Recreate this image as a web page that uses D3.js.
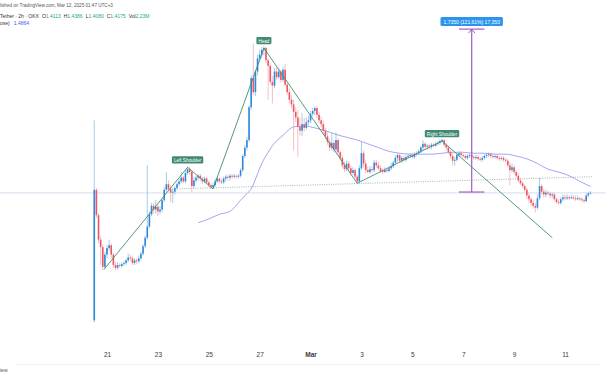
<!DOCTYPE html>
<html>
<head>
<meta charset="utf-8">
<title>KAITO 2h</title>
<script src="https://cdn.jsdelivr.net/npm/d3@7"></script>
<style>
  body { margin: 0; background: #fff; }
  svg { display: block; font-family: "Liberation Sans", Arial, sans-serif; }
</style>
</head>
<body>
<script>
// 2h bars, first one opens Feb 20 12:00
var firstBar = "2025-02-20T12:00:00Z";

var opens = [
  0.06,1.45,1.18,0.92,0.84,0.63,0.76,0.83,0.86,0.76,
  0.65,0.62,0.65,0.64,0.66,0.67,0.70,0.73,0.72,0.67,
  0.70,0.69,0.72,0.77,0.85,0.94,1.06,1.19,1.28,1.24,
  1.27,1.22,1.24,1.34,1.45,1.51,1.46,1.42,1.43,1.47,
  1.51,1.54,1.58,1.54,1.63,1.67,1.64,1.49,1.55,1.58,
  1.60,1.57,1.54,1.57,1.53,1.50,1.48,1.50,1.54,1.57,
  1.54,1.53,1.57,1.59,1.58,1.60,1.59,1.60,1.59,1.60,
  1.66,1.81,1.90,1.98,2.33,2.64,2.49,2.71,2.85,2.89,
  2.94,2.96,2.83,2.77,2.60,2.56,2.71,2.65,2.71,2.62,
  2.73,2.57,2.49,2.41,2.36,2.28,2.22,2.12,2.08,2.15,
  2.11,2.17,2.19,2.26,2.29,2.32,2.25,2.19,2.15,2.08,
  2.02,1.96,1.90,1.95,1.88,1.98,1.85,1.79,1.71,1.67,
  1.73,1.68,1.63,1.66,1.59,1.54,1.68,1.84,1.73,1.66,
  1.64,1.67,1.66,1.74,1.71,1.68,1.65,1.64,1.66,1.65,
  1.68,1.70,1.74,1.79,1.82,1.76,1.79,1.77,1.80,1.81,
  1.82,1.80,1.83,1.84,1.86,1.90,1.94,1.91,1.92,1.91,
  1.93,1.92,1.94,1.95,1.97,1.98,1.93,1.90,1.85,1.81,
  1.76,1.77,1.82,1.84,1.82,1.81,1.79,1.81,1.82,1.80,
  1.79,1.80,1.78,1.77,1.79,1.81,1.82,1.83,1.81,1.80,
  1.81,1.79,1.78,1.79,1.77,1.76,1.71,1.66,1.69,1.64,
  1.60,1.55,1.52,1.49,1.45,1.39,1.35,1.31,1.28,1.26,
  1.36,1.49,1.43,1.40,1.42,1.41,1.39,1.40,1.35,1.32,
  1.31,1.35,1.37,1.36,1.37,1.36,1.37,1.36,1.35,1.36,
  1.35,1.34,1.33,1.39,1.4113
];
var highs = [
  2.19,1.47,1.20,0.96,0.87,0.79,0.86,0.92,0.88,0.78,
  0.68,0.68,0.67,0.68,0.69,0.72,0.77,0.76,0.75,0.72,
  0.72,0.75,0.79,0.87,0.96,1.71,1.22,1.31,1.31,1.34,
  1.30,1.28,1.36,1.48,1.64,1.55,1.50,1.47,1.49,1.53,
  1.57,1.64,1.60,1.66,1.70,1.69,1.66,1.59,1.60,1.62,
  1.62,1.59,1.59,1.59,1.55,1.52,1.52,1.57,1.59,1.58,
  1.57,1.59,1.61,1.61,1.62,1.62,1.62,1.61,1.62,1.68,
  1.83,1.93,2.01,2.35,2.67,3.01,2.73,2.89,2.94,2.97,
  2.98,2.97,2.85,2.80,2.66,2.75,2.76,2.75,2.73,2.76,
  2.79,2.59,2.53,2.46,2.41,2.33,2.30,2.22,2.27,2.22,
  2.22,2.24,2.29,2.32,2.34,2.34,2.28,2.23,2.19,2.11,
  2.06,1.99,2.06,1.98,2.06,2.00,1.87,1.82,1.75,1.76,
  1.76,1.71,1.69,1.68,1.61,1.71,1.96,1.87,1.77,1.70,
  1.70,1.70,1.77,1.77,1.75,1.71,1.68,1.69,1.68,1.70,
  1.74,1.76,1.82,1.84,1.84,1.81,1.81,1.82,1.83,1.84,
  1.84,1.85,1.86,1.88,1.92,1.98,1.96,1.94,1.94,1.95,
  1.95,1.96,1.97,1.99,2.00,1.99,1.95,1.92,1.87,1.84,
  1.80,1.85,1.86,1.86,1.84,1.83,1.83,1.84,1.84,1.82,
  1.82,1.82,1.80,1.81,1.83,1.84,1.85,1.85,1.83,1.83,
  1.83,1.81,1.81,1.81,1.79,1.78,1.75,1.73,1.71,1.66,
  1.63,1.58,1.54,1.51,1.47,1.42,1.37,1.34,1.31,1.40,
  1.58,1.51,1.46,1.45,1.44,1.43,1.42,1.42,1.37,1.35,
  1.37,1.40,1.40,1.40,1.39,1.40,1.39,1.39,1.39,1.37,
  1.37,1.36,1.41,1.43,1.4386
];
var lows = [
  0.04,1.15,0.88,0.65,0.60,0.61,0.72,0.80,0.72,0.62,
  0.59,0.60,0.62,0.62,0.64,0.65,0.68,0.69,0.65,0.65,
  0.66,0.67,0.70,0.75,0.83,0.92,1.04,1.17,1.19,1.20,
  1.17,1.19,1.21,1.32,1.43,1.44,1.32,1.31,1.40,1.45,
  1.49,1.52,1.52,1.52,1.61,1.61,1.42,1.47,1.53,1.55,
  1.54,1.51,1.52,1.51,1.48,1.46,1.46,1.48,1.52,1.52,
  1.51,1.51,1.54,1.55,1.55,1.57,1.57,1.57,1.57,1.58,
  1.64,1.79,1.87,1.96,2.30,2.46,2.45,2.67,2.81,2.85,
  2.88,2.80,2.41,2.57,2.37,2.53,2.62,2.63,2.59,2.60,
  2.55,2.46,2.37,2.32,1.87,2.17,1.80,2.03,2.02,2.07,
  2.09,2.14,2.16,2.23,2.25,2.22,2.16,2.12,2.04,1.99,
  1.93,1.86,1.87,1.85,1.85,1.82,1.76,1.68,1.64,1.65,
  1.65,1.60,1.61,1.57,1.52,1.52,1.66,1.69,1.63,1.62,
  1.62,1.63,1.64,1.68,1.66,1.63,1.62,1.63,1.63,1.64,
  1.66,1.68,1.71,1.75,1.74,1.74,1.75,1.75,1.78,1.79,
  1.78,1.78,1.81,1.82,1.84,1.87,1.88,1.88,1.88,1.88,
  1.90,1.91,1.92,1.93,1.95,1.91,1.87,1.83,1.78,1.71,
  1.71,1.75,1.80,1.80,1.79,1.77,1.77,1.79,1.78,1.77,
  1.77,1.76,1.75,1.75,1.77,1.79,1.80,1.79,1.78,1.78,
  1.77,1.76,1.76,1.75,1.74,1.69,1.50,1.64,1.62,1.58,
  1.53,1.50,1.47,1.43,1.35,1.31,1.28,1.25,1.21,1.24,
  1.34,1.40,1.37,1.37,1.39,1.36,1.36,1.33,1.30,1.29,
  1.29,1.33,1.34,1.34,1.34,1.35,1.34,1.33,1.34,1.33,
  1.32,1.31,1.32,1.37,1.4080
];
var closes = [
  1.45,1.18,0.92,0.84,0.63,0.76,0.83,0.86,0.76,0.65,
  0.62,0.65,0.64,0.66,0.67,0.70,0.73,0.72,0.67,0.70,
  0.69,0.72,0.77,0.85,0.94,1.06,1.19,1.28,1.24,1.27,
  1.22,1.24,1.34,1.45,1.51,1.46,1.42,1.43,1.47,1.51,
  1.54,1.58,1.54,1.63,1.67,1.64,1.49,1.55,1.58,1.60,
  1.57,1.54,1.57,1.53,1.50,1.48,1.50,1.54,1.57,1.54,
  1.53,1.57,1.59,1.58,1.60,1.59,1.60,1.59,1.60,1.66,
  1.81,1.90,1.98,2.33,2.64,2.49,2.71,2.85,2.89,2.94,
  2.96,2.83,2.77,2.60,2.56,2.71,2.65,2.71,2.62,2.73,
  2.57,2.49,2.41,2.36,2.28,2.22,2.12,2.08,2.15,2.11,
  2.17,2.19,2.26,2.29,2.32,2.25,2.19,2.15,2.08,2.02,
  1.96,1.90,1.95,1.88,1.98,1.85,1.79,1.71,1.67,1.73,
  1.68,1.63,1.66,1.59,1.54,1.68,1.84,1.73,1.66,1.64,
  1.67,1.66,1.74,1.71,1.68,1.65,1.64,1.66,1.65,1.68,
  1.70,1.74,1.79,1.82,1.76,1.79,1.77,1.80,1.81,1.82,
  1.80,1.83,1.84,1.86,1.90,1.94,1.91,1.92,1.91,1.93,
  1.92,1.94,1.95,1.97,1.98,1.93,1.90,1.85,1.81,1.76,
  1.77,1.82,1.84,1.82,1.81,1.79,1.81,1.82,1.80,1.79,
  1.80,1.78,1.77,1.79,1.81,1.82,1.83,1.81,1.80,1.81,
  1.79,1.78,1.79,1.77,1.76,1.71,1.66,1.69,1.64,1.60,
  1.55,1.52,1.49,1.45,1.39,1.35,1.31,1.28,1.26,1.36,
  1.49,1.43,1.40,1.42,1.41,1.39,1.40,1.35,1.32,1.31,
  1.35,1.37,1.36,1.37,1.36,1.37,1.36,1.35,1.36,1.35,
  1.34,1.33,1.39,1.41,1.4175
];

// moving average (bar index -> value)
var maBars   = [49,54,59,64,69,72,74,77,79,82,84,89,94,99,104,109,114,119,124,129,134,139,144,149,154,159,164,169,174,179,184,189,194,199,204,209,214,219,224,229,234];
var maValues = [1.10,1.14,1.19,1.22,1.34,1.41,1.46,1.62,1.73,1.85,1.92,2.03,2.12,2.13,2.11,2.08,2.04,2.01,1.98,1.94,1.90,1.86,1.84,1.83,1.83,1.83,1.84,1.85,1.85,1.84,1.84,1.83,1.83,1.81,1.78,1.73,1.67,1.64,1.60,1.54,1.4864];

var tickDates  = ["2025-02-21","2025-02-23","2025-02-25","2025-02-27","2025-03-01","2025-03-03","2025-03-05","2025-03-07","2025-03-09","2025-03-11"];
var tickLabels = ["21","23","25","27","Mar","3","5","7","9","11"];

var lastPrice = 1.4175;

// head & shoulders drawing
var patternTimes  = ["2025-02-20T21:00Z","2025-02-24T04:00Z","2025-02-25T04:00Z","2025-02-27T04:00Z","2025-03-02T20:00Z","2025-03-06T04:00Z","2025-03-10T12:00Z"];
var patternPrices = [0.60, 1.69, 1.46, 2.96, 1.52, 1.97, 0.94];
var patternLabels = [null, "Left Shoulder", null, "Head", null, "Right Shoulder", null];

var necklineTimes  = ["2025-02-23T18:00Z","2025-03-12T01:30Z"];
var necklinePrices = [1.46, 1.59];

// price range tool
var measureTime  = "2025-03-07T08:00Z";
var measureSpan  = ["2025-03-06T20:00Z","2025-03-07T20:00Z"];
var measureFrom  = 1.4267;
var measureTo    = 3.1617;
var measureText  = "1.7350 (121.61%) 17,350";

var W = 606, H = 374;

var t0 = new Date(firstBar);
var bars = closes.map(function(c, i) {
  return { t: d3.utcHour.offset(t0, 2 * i), o: opens[i], h: highs[i], l: lows[i], c: c };
});

var x = d3.scaleUtc()
  .domain([new Date("2025-02-21T00:00Z"), new Date("2025-03-11T00:00Z")])
  .range([107, 565]);
var y = d3.scaleLinear()
  .domain([0, 3])
  .range([326, 44.3]);

var svg = d3.select('body').append('svg')
  .attr('width', W)
  .attr('height', H);

svg.append('rect').attr('width', W).attr('height', H).attr('fill', '#fff');

// last price line
svg.append('line')
  .attr('x1', 0).attr('x2', W)
  .attr('y1', y(lastPrice)).attr('y2', y(lastPrice))
  .attr('stroke', '#c9d7ea').attr('stroke-width', 0.8);

// neckline
svg.append('path')
  .attr('d', d3.line()
    .x(function(d, i) { return x(new Date(d)); })
    .y(function(d, i) { return y(necklinePrices[i]); })(necklineTimes))
  .attr('fill', 'none')
  .attr('stroke', '#86a89c')
  .attr('stroke-width', 0.8)
  .attr('stroke-dasharray', '1,1.3');

// moving average
svg.append('path')
  .attr('d', d3.line()
    .curve(d3.curveMonotoneX)
    .x(function(d) { return x(bars[d].t); })
    .y(function(d, i) { return y(maValues[i]); })(maBars))
  .attr('fill', 'none')
  .attr('stroke', '#8b8eec')
  .attr('stroke-width', 0.8);

// candles
var upBody = '#2f88dc', upWick = '#7fb4dc', dnBody = '#ee5563', dnWick = '#f3a2a9';
var cg = svg.append('g').attr('class', 'candles');
cg.selectAll('line')
  .data(bars)
  .enter()
  .append('line')
    .attr('x1', function(d) { return x(d.t); })
    .attr('x2', function(d) { return x(d.t); })
    .attr('y1', function(d) { return y(d.h); })
    .attr('y2', function(d) { return y(d.l); })
    .attr('stroke', function(d) { return d.c >= d.o ? upWick : dnWick; })
    .attr('stroke-width', 0.7);
cg.selectAll('rect')
  .data(bars)
  .enter()
  .append('rect')
    .attr('x', function(d) { return x(d.t) - 0.8; })
    .attr('width', 1.6)
    .attr('y', function(d) { return y(Math.max(d.o, d.c)); })
    .attr('height', function(d) { return Math.max(0.8, Math.abs(y(d.o) - y(d.c))); })
    .attr('fill', function(d) { return d.c >= d.o ? upBody : dnBody; });

// head & shoulders polyline
svg.append('path')
  .attr('d', d3.line()
    .x(function(d) { return x(new Date(d)); })
    .y(function(d, i) { return y(patternPrices[i]); })(patternTimes))
  .attr('fill', 'none')
  .attr('stroke', '#3f8d6f')
  .attr('stroke-width', 0.9);

var labels = svg.append('g');
patternTimes.forEach(function(t, i) {
  if (!patternLabels[i]) return;
  var px = x(new Date(t)), py = y(patternPrices[i]);
  var g = labels.append('g');
  var txt = g.append('text')
    .attr('x', px).attr('y', py - 5.3)
    .attr('text-anchor', 'middle')
    .attr('font-size', 4.6)
    .attr('fill', '#fff')
    .text(patternLabels[i]);
  var w = txt.node().getComputedTextLength() + 4;
  g.insert('rect', 'text')
    .attr('x', px - w / 2).attr('y', py - 11)
    .attr('width', w).attr('height', 7.2)
    .attr('rx', 1.3)
    .attr('fill', '#3e8a73');
});

// price range tool
var mx = x(new Date(measureTime)), mTop = y(measureTo), mBot = y(measureFrom);
var purple = '#a25bc8';
svg.append('line')
  .attr('x1', mx).attr('x2', mx).attr('y1', mTop).attr('y2', mBot)
  .attr('stroke', purple).attr('stroke-width', 1.2);
[measureTo, measureFrom].forEach(function(p) {
  svg.append('line')
    .attr('x1', x(new Date(measureSpan[0]))).attr('x2', x(new Date(measureSpan[1])))
    .attr('y1', y(p)).attr('y2', y(p))
    .attr('stroke', purple).attr('stroke-width', 1.2);
});
svg.append('path')
  .attr('d', 'M' + (mx - 3.2) + ',' + (mTop + 4) + 'L' + mx + ',' + mTop + 'L' + (mx + 3.2) + ',' + (mTop + 4))
  .attr('fill', 'none').attr('stroke', purple).attr('stroke-width', 1);
var mg = svg.append('g');
var mt = mg.append('text')
  .attr('x', mx).attr('y', mTop - 5.4)
  .attr('text-anchor', 'middle')
  .attr('font-size', 5)
  .attr('fill', '#fff')
  .text(measureText);
var mw = mt.node().getComputedTextLength() + 6;
mg.insert('rect', 'text')
  .attr('x', mx - mw / 2).attr('y', mTop - 12.2)
  .attr('width', mw).attr('height', 9)
  .attr('rx', 1.5)
  .attr('fill', '#2b95ee');

// time axis
var xAxis = d3.axisBottom(x)
  .tickValues(tickDates.map(function(d) { return new Date(d + "T00:00Z"); }))
  .tickFormat(function(d, i) { return tickLabels[i]; })
  .tickSize(0)
  .tickPadding(0);
var ax = svg.append('g')
  .attr('transform', 'translate(0,352)')
  .call(xAxis);
ax.select('.domain').remove();
ax.selectAll('text')
  .attr('font-size', 6.5)
  .attr('font-family', '"Liberation Sans", Arial, sans-serif')
  .attr('fill', '#3a3a3a')
  .attr('font-weight', function(d, i) { return tickLabels[i] === 'Mar' ? 'bold' : 'normal'; });

svg.append('line')
  .attr('x1', 15).attr('x2', 600).attr('y1', 364.5).attr('y2', 364.5)
  .attr('stroke', '#f0f1f3').attr('stroke-width', 1);

// header
svg.append('text')
  .attr('x', 0).attr('y', 7)
  .attr('font-size', 4.6).attr('fill', '#555')
  .text('lished on TradingView.com, Mar 12, 2025 01:47 UTC+3');

var green = '#22a58e';
var h2 = svg.append('text').attr('x', 0).attr('y', 17.5).attr('font-size', 5).attr('fill', '#333');
h2.append('tspan').text('Tether · 2h · OKX');
[['O', opens[opens.length - 1]], ['H', highs[highs.length - 1]], ['L', lows[lows.length - 1]], ['C', closes[closes.length - 1]]]
  .forEach(function(p) {
    h2.append('tspan').attr('dx', 3).text(p[0]);
    h2.append('tspan').attr('fill', green).text(p[1].toFixed(4));
  });
h2.append('tspan').attr('dx', 3).text('Vol');
h2.append('tspan').attr('fill', green).text('2.23M');

var h3 = svg.append('text').attr('x', 0).attr('y', 24.5).attr('font-size', 5).attr('fill', '#333');
h3.append('tspan').text('ose)');
h3.append('tspan').attr('dx', 4).attr('fill', '#3c63ee').text(maValues[maValues.length - 1].toFixed(4));

svg.append('text')
  .attr('x', 0).attr('y', 372)
  .attr('font-size', 5).attr('fill', '#555')
  .text('iew');
</script>
</body>
</html>
